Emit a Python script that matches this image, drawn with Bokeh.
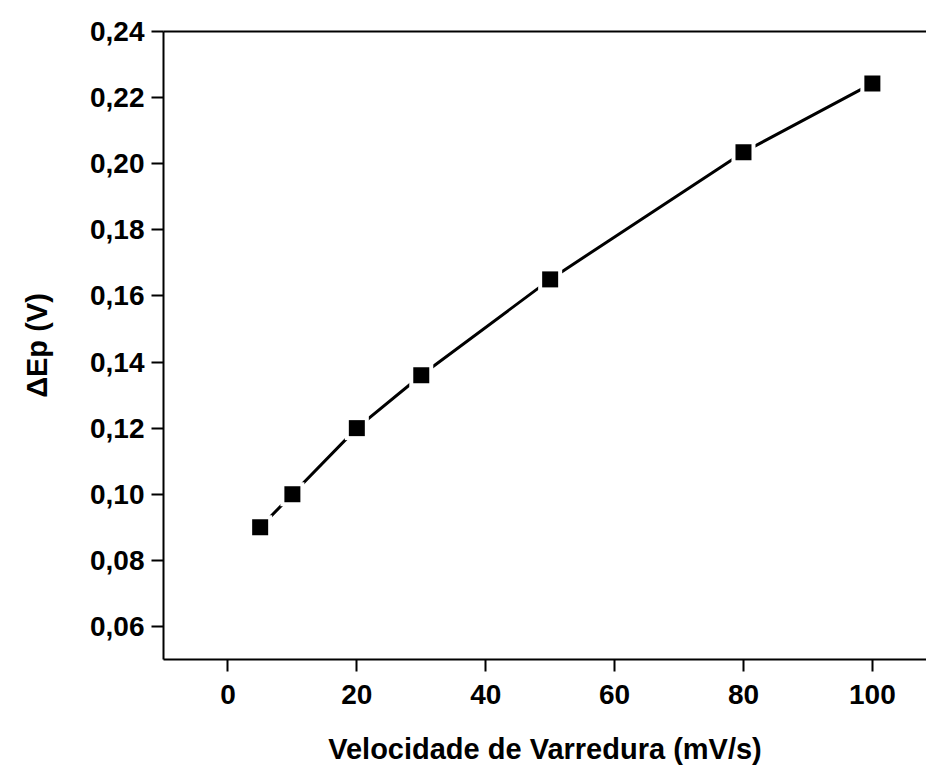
from bokeh.plotting import figure
from bokeh.models import FixedTicker, LinearAxis, Range1d, ColumnDataSource
from bokeh.embed import file_html
from bokeh.resources import INLINE

# Data
scan_rate = [5, 10, 20, 30, 50, 80, 100]          # mV/s
delta_ep = [0.090, 0.100, 0.120, 0.136, 0.165, 0.2035, 0.2243]  # V

x_ticks = [0, 20, 40, 60, 80, 100]
y_ticks = [0.06, 0.08, 0.10, 0.12, 0.14, 0.16, 0.18, 0.20, 0.22, 0.24]
y_tick_labels = ["0,06", "0,08", "0,10", "0,12", "0,14", "0,16", "0,18", "0,20", "0,22", "0,24"]

x_title = "Velocidade de Varredura (mV/s)"
y_title = "\u0394Ep (V)"

FONT = "Liberation Sans"

src = ColumnDataSource(dict(x=scan_rate, y=delta_ep))

p = figure(width=926, height=767, output_backend="svg", toolbar_location=None,
           x_range=Range1d(-10, 108.4), y_range=Range1d(0.05, 0.24),
           min_border_left=163, min_border_right=0, min_border_top=31, min_border_bottom=108,
           x_axis_label=x_title, y_axis_label=y_title)

p.background_fill_color = "white"
p.border_fill_color = "white"
p.outline_line_color = None
p.grid.visible = False

# line + gap squares + markers
p.line("x", "y", source=src, line_color="black", line_width=3)
p.scatter("x", "y", source=src, marker="square", size=24, fill_color="white", line_color=None)
p.scatter("x", "y", source=src, marker="square", size=16, fill_color="black", line_color=None)

for ax in (p.xaxis[0], p.yaxis[0]):
    ax.axis_line_width = 2
    ax.major_tick_line_width = 2
    ax.major_tick_in = 0
    ax.major_tick_out = 12
    ax.minor_tick_line_color = None
    ax.major_label_text_font = FONT
    ax.major_label_text_font_style = "bold"
    ax.major_label_text_font_size = "28px"
    ax.major_label_text_color = "black"
    ax.axis_label_text_font = FONT
    ax.axis_label_text_font_style = "bold"
    ax.axis_label_text_font_size = "29px"
    ax.axis_label_text_color = "black"

p.xaxis[0].ticker = FixedTicker(ticks=x_ticks)
p.yaxis[0].ticker = FixedTicker(ticks=y_ticks)
p.yaxis[0].major_label_overrides = {v: l for v, l in zip(y_ticks, y_tick_labels)}
p.xaxis[0].major_label_standoff = 13
p.yaxis[0].major_label_standoff = 7
p.xaxis[0].axis_label_standoff = 26
p.yaxis[0].axis_label_standoff = 34

top = LinearAxis(axis_line_width=2, major_tick_line_color=None, minor_tick_line_color=None,
                 major_label_text_font_size="0px")
top.major_label_text_color = None
p.add_layout(top, "above")

open("out.html", "w").write(file_html(p, INLINE))
